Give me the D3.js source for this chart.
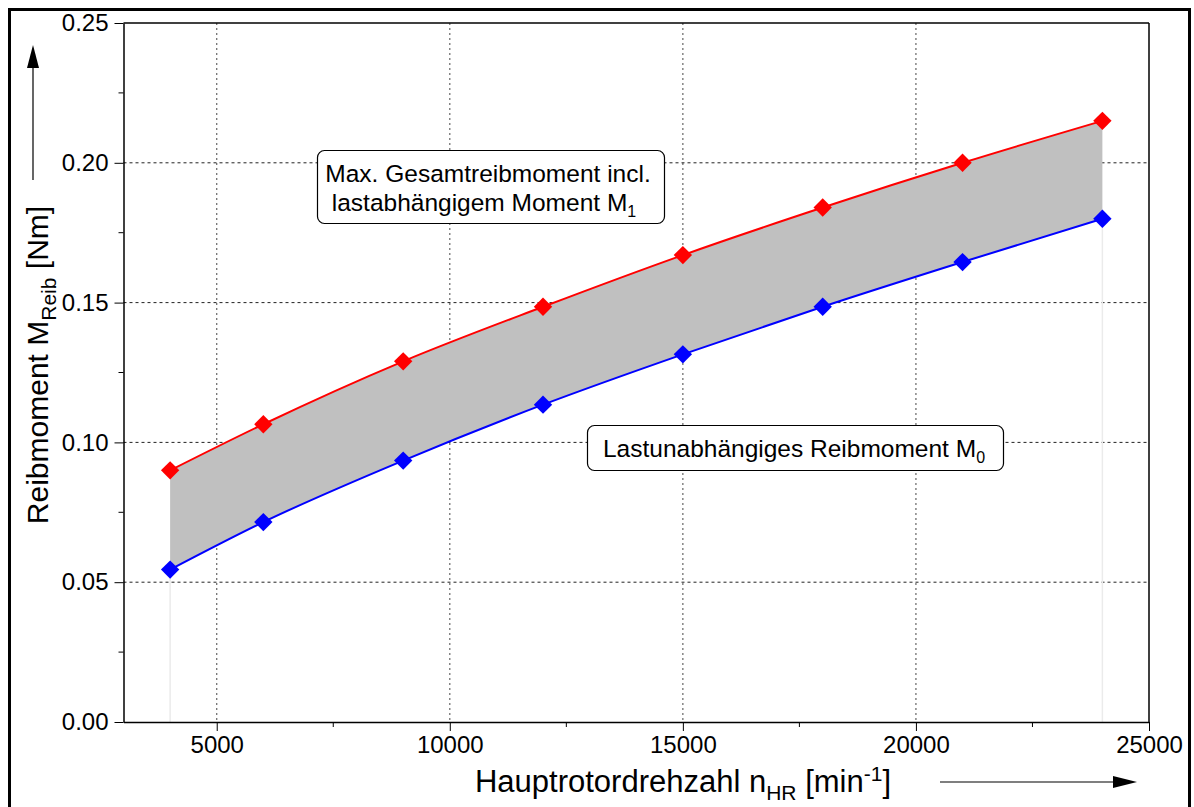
<!DOCTYPE html>
<html>
<head>
<meta charset="utf-8">
<script src="https://cdn.jsdelivr.net/npm/d3@7.9.0/dist/d3.min.js"></script>
<style>
  html, body { margin: 0; padding: 0; background: #fff; }
  svg { display: block; font-family: Arial, "Liberation Sans", Helvetica, sans-serif; }
</style>
</head>
<body>
<svg id="chart" width="1194" height="807"></svg>
<script>
const drehzahl = [4000, 6000, 9000, 12000, 15000, 18000, 21000, 24000];
const maxMoment = [0.090, 0.1065, 0.129, 0.1485, 0.167, 0.184, 0.200, 0.215];
const lastunabh = [0.0545, 0.0715, 0.0935, 0.1135, 0.1315, 0.1485, 0.1645, 0.180];
const xTicks = [5000, 10000, 15000, 20000, 25000];
const yTicks = [0, 0.05, 0.10, 0.15, 0.20, 0.25];

const svg = d3.select('#chart');
const margin = { left: 123.5, right: 1149, top: 23, bottom: 722 };
const FONT = 'Arial, "Liberation Sans", Helvetica, sans-serif';

const x = d3.scaleLinear().domain([3000, 25000]).range([margin.left, margin.right]);
const y = d3.scaleLinear().domain([0, 0.25]).range([margin.bottom, margin.top]);

const rows = drehzahl.map((d, i) => ({ n: d, hi: maxMoment[i], lo: lastunabh[i] }));

// outer frame
svg.append('rect')
  .attr('x', 9.5).attr('y', 9.5).attr('width', 1180).attr('height', 805)
  .attr('fill', 'none').attr('stroke', '#000').attr('stroke-width', 3);

// grid
svg.append('g')
  .selectAll('line')
  .data(xTicks.slice(0, -1))
  .join('line')
  .attr('x1', (d) => x(d)).attr('x2', (d) => x(d))
  .attr('y1', margin.top).attr('y2', margin.bottom)
  .attr('stroke', '#666').attr('stroke-width', 1.2).attr('stroke-dasharray', '2,3');

svg.append('g')
  .selectAll('line')
  .data(yTicks.slice(1, -1))
  .join('line')
  .attr('x1', margin.left).attr('x2', margin.right)
  .attr('y1', (d) => y(d)).attr('y2', (d) => y(d))
  .attr('stroke', '#222').attr('stroke-width', 1).attr('stroke-dasharray', '3,3');

// faint drop lines at the area ends
svg.append('g')
  .selectAll('line')
  .data([rows[0], rows[rows.length - 1]])
  .join('line')
  .attr('x1', (d) => x(d.n)).attr('x2', (d) => x(d.n))
  .attr('y1', (d) => y(d.lo)).attr('y2', margin.bottom)
  .attr('stroke', '#ebebeb').attr('stroke-width', 1.5);

// band
const curve = d3.curveMonotoneX;
svg.append('path')
  .datum(rows)
  .attr('d', d3.area().x((d) => x(d.n)).y0((d) => y(d.lo)).y1((d) => y(d.hi)).curve(curve))
  .attr('fill', '#c0c0c0');

// axes
const xAxis = svg.append('g').attr('transform', `translate(0,${margin.bottom})`)
  .call(d3.axisBottom(x).tickValues(xTicks).tickSize(9).tickSizeOuter(0).tickPadding(5).tickFormat(d3.format('d')));
const yAxis = svg.append('g').attr('transform', `translate(${margin.left},0)`)
  .call(d3.axisLeft(y).tickValues(yTicks).tickSize(9).tickSizeOuter(0).tickPadding(6).tickFormat(d3.format('.2f')));

// minor ticks
svg.append('g').selectAll('line')
  .data([7500, 12500, 17500, 22500])
  .join('line')
  .attr('x1', (d) => x(d)).attr('x2', (d) => x(d))
  .attr('y1', margin.bottom).attr('y2', margin.bottom + 5)
  .attr('stroke', '#000');
svg.append('g').selectAll('line')
  .data([0.025, 0.075, 0.125, 0.175, 0.225])
  .join('line')
  .attr('x1', margin.left - 5).attr('x2', margin.left)
  .attr('y1', (d) => y(d)).attr('y2', (d) => y(d))
  .attr('stroke', '#000');

[xAxis, yAxis].forEach((g) => {
  g.select('.domain').attr('stroke', '#000').attr('stroke-width', 1.5);
  g.selectAll('.tick line').attr('stroke', '#000');
  g.selectAll('.tick text').attr('font-size', 24).attr('fill', '#000')
    .attr('font-family', FONT);
});

// right & top frame of plot
svg.append('line')
  .attr('x1', margin.right).attr('x2', margin.right)
  .attr('y1', margin.top).attr('y2', margin.bottom)
  .attr('stroke', '#000').attr('stroke-width', 1.5);
svg.append('line')
  .attr('x1', margin.left).attr('x2', margin.right)
  .attr('y1', margin.top).attr('y2', margin.top)
  .attr('stroke', '#000').attr('stroke-width', 1.5);

// series lines + diamonds
const series = [
  { key: 'hi', color: '#ff0000' },
  { key: 'lo', color: '#0000ff' }
];
const diamond = d3.symbol().type(d3.symbolDiamond2).size(215);

series.forEach((s) => {
  svg.append('path')
    .datum(rows)
    .attr('d', d3.line().x((d) => x(d.n)).y((d) => y(d[s.key])).curve(curve))
    .attr('fill', 'none').attr('stroke', s.color).attr('stroke-width', 2);
  svg.append('g').selectAll('path')
    .data(rows)
    .join('path')
    .attr('transform', (d) => `translate(${x(d.n)},${y(d[s.key])})`)
    .attr('d', diamond)
    .attr('fill', s.color);
});

// annotation boxes
function labelBox(bx, by, w, h) {
  svg.append('rect')
    .attr('x', bx).attr('y', by).attr('width', w).attr('height', h)
    .attr('rx', 7).attr('fill', '#fff').attr('stroke', '#000').attr('stroke-width', 1.2);
}
labelBox(317.5, 150.5, 347, 73);
const t1 = svg.append('text').attr('font-size', 24.5).attr('text-anchor', 'middle').attr('fill', '#000');
t1.append('tspan').attr('x', 488).attr('y', 182).text('Max. Gesamtreibmoment incl.');
t1.append('tspan').attr('x', 484).attr('y', 211).text('lastabhängigem Moment M');
t1.append('tspan').attr('font-size', 16).attr('dy', 6).text('1');

labelBox(587.5, 425.5, 416, 45);
const t2 = svg.append('text').attr('font-size', 24.5).attr('text-anchor', 'middle').attr('fill', '#000');
t2.append('tspan').attr('x', 794).attr('y', 457).text('Lastunabhängiges Reibmoment M');
t2.append('tspan').attr('font-size', 16).attr('dy', 6).text('0');

// axis titles
const xt = svg.append('text').attr('x', 683).attr('y', 792).attr('text-anchor', 'middle')
  .attr('font-size', 31).attr('fill', '#000');
xt.append('tspan').text('Hauptrotordrehzahl n');
xt.append('tspan').attr('font-size', 21).attr('dy', 8).text('HR');
xt.append('tspan').attr('dy', -8).text(' [min');
xt.append('tspan').attr('font-size', 21).attr('dy', -11).text('-1');
xt.append('tspan').attr('dy', 11).text(']');

const yt = svg.append('text').attr('transform', 'translate(48,365) rotate(-90)')
  .attr('text-anchor', 'middle').attr('font-size', 30).attr('fill', '#000');
yt.append('tspan').text('Reibmoment M');
yt.append('tspan').attr('font-size', 21).attr('dy', 8).text('Reib');
yt.append('tspan').attr('dy', -8).text(' [Nm]');

// direction arrows
svg.append('line').attr('x1', 33).attr('x2', 33).attr('y1', 180).attr('y2', 60)
  .attr('stroke', '#000').attr('stroke-width', 1.2);
svg.append('path').attr('d', 'M33,45 L27,68 L39,68 Z').attr('fill', '#000');
svg.append('line').attr('x1', 940).attr('x2', 1118).attr('y1', 782).attr('y2', 782)
  .attr('stroke', '#000').attr('stroke-width', 1.2);
svg.append('path').attr('d', 'M1137,782 L1113,776 L1113,788 Z').attr('fill', '#000');
</script>
</body>
</html>
